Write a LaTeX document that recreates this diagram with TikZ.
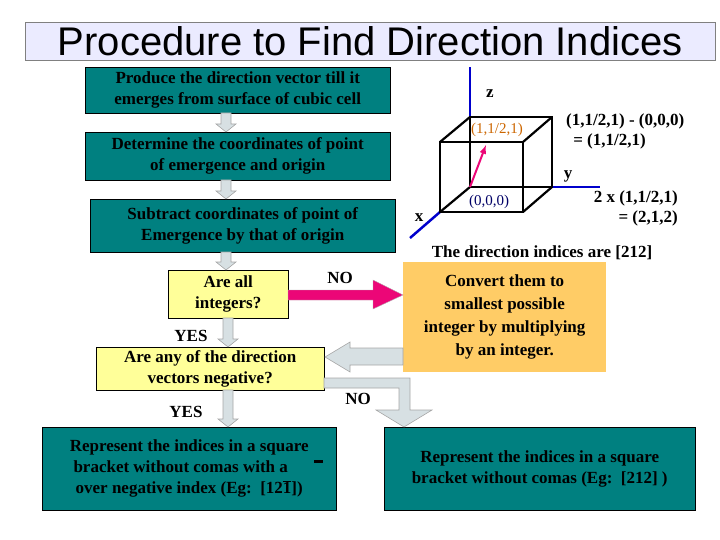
\documentclass[tikz,border=0pt]{standalone}
\usepackage{fontspec}
\setmainfont{Liberation Serif}
\newfontfamily\titlefont{Liberation Sans}
\definecolor{tealc}{HTML}{008080}
\definecolor{orangec}{HTML}{FFCC66}
\definecolor{yellowc}{HTML}{FFFF99}
\begin{document}
\begin{tikzpicture}[x=1pt,y=-1pt,
  teal box/.style={draw=black,fill=tealc,font=\bfseries\fontsize{17}{21}\selectfont,align=center,inner sep=0pt},
  yellow box/.style={draw=black,fill=yellowc,font=\bfseries\fontsize{17}{21}\selectfont,align=center,inner sep=0pt},
  orange box/.style={draw=none,fill=orangec,font=\bfseries\fontsize{17}{23}\selectfont,align=center,inner sep=0pt},
  blk/.style={draw=gray!70,fill=cyan!20!gray!30,line width=0.6pt},
  lbl/.style={font=\bfseries\fontsize{17}{20}\selectfont,inner sep=0pt},
  axis/.style={blue!80!black,line width=2.5pt},
  edge/.style={black,line width=2.2pt}]
\useasboundingbox (0,0) rectangle (720,540);
\newcommand\dnarrow[3]{\draw[blk] (#1-5,#2) -- (#1+5,#2) -- (#1+5,#3-8) -- (#1+10,#3-8) -- (#1,#3) -- (#1-10,#3-8) -- (#1-5,#3-8) -- cycle;}
% title
\node[draw=gray,fill=blue!8,minimum width=690pt,minimum height=38pt,inner sep=0pt,font=\titlefont\fontsize{40}{40}\selectfont,anchor=north west] (title) at (25,22) {Procedure to Find Direction Indices};
\node[teal box,minimum width=305pt,minimum height=46pt,anchor=north west] (b1) at (85,67) {Produce the direction vector till it\\emerges from surface of cubic cell};
\node[teal box,minimum width=305pt,minimum height=48pt,anchor=north west] (b2) at (85,132) {Determine the coordinates of point\\of emergence and origin};
\node[teal box,minimum width=305pt,minimum height=53pt,anchor=north west] (b3) at (90,199) {Subtract coordinates of point of\\Emergence by that of origin};
\node[yellow box,minimum width=120pt,minimum height=48pt,anchor=north west] (b4) at (168,270) {Are all\\integers?};
\node[yellow box,minimum width=228pt,minimum height=43pt,anchor=north west] (b5) at (96,347) {Are any of the direction\\vectors negative?};
\node[teal box,minimum width=294pt,minimum height=83pt,anchor=north west] (b6) at (42,427) {Represent the indices in a square\\bracket without comas with a\phantom{xx}\\over negative index (Eg:\ \ [12$\overline{\mbox{1}}$])};
\node[teal box,minimum width=311pt,minimum height=83pt,anchor=north west] (b7) at (384,427) {Represent the indices in a square\\bracket without comas (Eg:\ \ [212] )};
\node[orange box,minimum width=203pt,minimum height=110pt,anchor=north west] (ob) at (403,262) {Convert them to\\smallest possible\\integer by multiplying\\by an integer.};
\fill (314,460) rectangle (323,463);
% small arrows
\dnarrow{226}{113}{132}
\dnarrow{226}{180}{199}
\dnarrow{226}{252}{270}
\dnarrow{228}{318}{347}
\dnarrow{228}{390}{427}
% red arrow
\draw[draw=gray!60,fill=magenta!80!red] (288,290) -- (373,290) -- (373,280) -- (403,295) -- (373,309) -- (373,300) -- (288,300) -- cycle;
% left arrow
\draw[blk] (403,348) -- (350,348) -- (350,342) -- (325,357) -- (350,372) -- (350,365) -- (403,365) -- cycle;
% NO down arrow
\draw[blk] (324,378) -- (410,378) -- (410,410) -- (432,410) -- (404,427) -- (376,410) -- (399,410) -- (399,388) -- (324,388) -- cycle;
\node[lbl] (yes1) at (191,336) {YES};
\node[lbl] (yes2) at (186,412) {YES};
\node[lbl] (no1) at (340,278) {NO};
\node[lbl] (no2) at (358,399) {NO};
% cube
\coordinate (O) at (470,187);
\draw[axis] (470,117) -- (470,67);
\draw[axis] (552,187) -- (600,187);
\draw[axis] (440,212) -- (410,238);
\draw[edge] (470,117) rectangle (552,187);
\draw[edge] (440,142) rectangle (523,212);
\draw[edge] (440,142) -- (470,117) (523,142) -- (552,117) (523,212) -- (552,187) (440,212) -- (470,187);
\draw[magenta!80!red,line width=2pt,-{latex}] (O) -- (486,145);
\node[font=\fontsize{15}{17}\selectfont,text=orange!80!black,inner sep=0pt] (p1) at (497,130) {(1,1/2,1)};
\node[font=\fontsize{15}{17}\selectfont,text=blue!40!black,inner sep=0pt] (p0) at (489,202) {(0,0,0)};
\node[lbl] (zl) at (490,94) {z};
\node[lbl] (yl) at (568,176) {y};
\node[lbl] (xl) at (419,218) {x};
\node[lbl,align=left,anchor=west] (eq1) at (566,131) {(1,1/2,1) - (0,0,0)\\\ \,= (1,1/2,1)};
\node[lbl,align=right,anchor=east] (eq2) at (678,208) {2 x (1,1/2,1)\\= (2,1,2)};
\node[lbl] (res) at (542,253) {The direction indices are [212]};
\end{tikzpicture}
\end{document}
